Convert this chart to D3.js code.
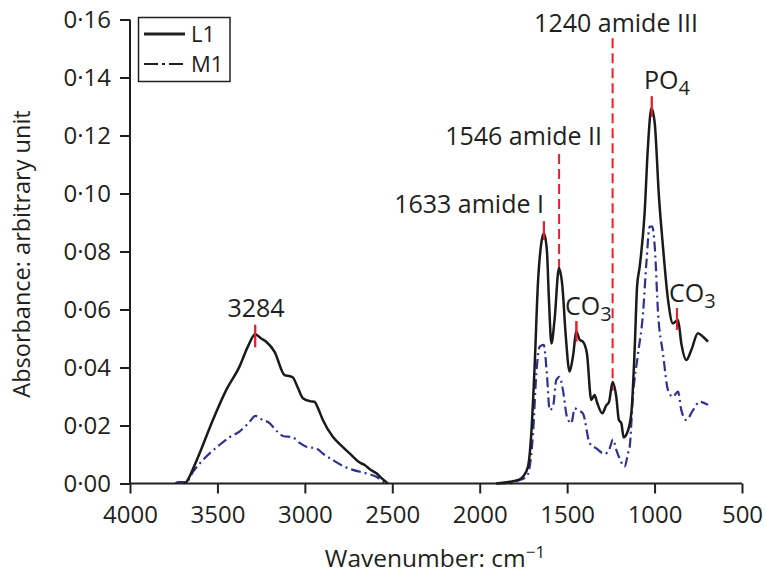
<!DOCTYPE html>
<html>
<head>
<meta charset="utf-8">
<script src="https://cdn.jsdelivr.net/npm/d3@7"></script>
<style>
  body { margin: 0; background: #fff; }
  text { font-family: "Open Sans", sans-serif; fill: #231f20; }
</style>
</head>
<body>
<svg width="766" height="575"></svg>
<script>
// spectrum L1 (solid black), null breaks the line where it sits on the axis
var l1Wave = [3690, 3678, 3640, 3602, 3526, 3450, 3374, 3326, 3284, 3250, 3221, 3173, 3116, 3085, 3069, 3040, 3011, 2970, 2945, 2925, 2897, 2840, 2790, 2744, 2680, 2658, 2630, 2591, 2555, 2525,
    2200,
    1905, 1829, 1780, 1753, 1724, 1705, 1686, 1667, 1648, 1633, 1616, 1604, 1590, 1572, 1547, 1527, 1509, 1486, 1467, 1447, 1428, 1410, 1387, 1362, 1343, 1330, 1299, 1276, 1261, 1240, 1219, 1204, 1190, 1177, 1158, 1133, 1114, 1100, 1085, 1057, 1038, 1018, 999, 975, 952, 923, 895, 866, 847, 818, 790, 752, 723, 694];
var l1Abs = [0.000, 0.0005, 0.005, 0.0104, 0.0219, 0.0322, 0.0403, 0.0472, 0.0515, 0.0500, 0.0489, 0.0454, 0.0374, 0.0370, 0.0366, 0.0330, 0.0294, 0.0284, 0.0282, 0.0260, 0.0219, 0.0161, 0.0130, 0.0104, 0.0070, 0.0064, 0.0050, 0.0035, 0.0015, 0.000,
    null,
    0.000, 0.0006, 0.0012, 0.0023, 0.0058, 0.0173, 0.0403, 0.0690, 0.0828, 0.0863, 0.0805, 0.0633, 0.0483, 0.0564, 0.0742, 0.0679, 0.0518, 0.0386, 0.0437, 0.0523, 0.0495, 0.0489, 0.0449, 0.0288, 0.0305, 0.0282, 0.0242, 0.0270, 0.0280, 0.0350, 0.0299, 0.0219, 0.0208, 0.0159, 0.0173, 0.0242, 0.0460, 0.0680, 0.0748, 0.0932, 0.1161, 0.1294, 0.1242, 0.0989, 0.0817, 0.0633, 0.0552, 0.0564, 0.0483, 0.0426, 0.0460, 0.0518, 0.0506, 0.0489];

// spectrum M1 (blue dash-dot)
var m1Wave = [3740, 3727, 3678, 3640, 3583, 3488, 3430, 3374, 3320, 3282, 3250, 3202, 3160, 3126, 3069, 3030, 2992, 2935, 2890, 2840, 2780, 2725, 2649, 2591, 2555, 2525,
    2200,
    1905, 1829, 1780, 1733, 1714, 1695, 1676, 1657, 1634, 1616, 1600, 1581, 1562, 1543, 1524, 1501, 1476, 1457, 1438, 1410, 1371, 1333, 1285, 1257, 1238, 1219, 1181, 1171, 1152, 1142, 1124, 1095, 1066, 1047, 1028, 1013, 999, 980, 952, 923, 895, 866, 847, 818, 780, 742, 694];
var m1Abs = [0.000, 0.0005, 0.0005, 0.0040, 0.0081, 0.0133, 0.0160, 0.0179, 0.0210, 0.0233, 0.0222, 0.0208, 0.0180, 0.0164, 0.0159, 0.0140, 0.0127, 0.0121, 0.0100, 0.0081, 0.0060, 0.0047, 0.0035, 0.0023, 0.0008, 0.000,
    null,
    0.000, 0.000, 0.0010, 0.0023, 0.0058, 0.0173, 0.0380, 0.0472, 0.0478, 0.0380, 0.0253, 0.0265, 0.0357, 0.0368, 0.0322, 0.0230, 0.0208, 0.0259, 0.0253, 0.0242, 0.0139, 0.0121, 0.0102, 0.0121, 0.0152, 0.0116, 0.0064, 0.0058, 0.0104, 0.0127, 0.0300, 0.0445, 0.0587, 0.0759, 0.0886, 0.0886, 0.0817, 0.0587, 0.0449, 0.0322, 0.0299, 0.0317, 0.0253, 0.0219, 0.0253, 0.0282, 0.0271];

var xTicks = [4000, 3500, 3000, 2500, 2000, 1500, 1000, 500];
var yTicks = [0, 0.02, 0.04, 0.06, 0.08, 0.10, 0.12, 0.14, 0.16];

// peak marks: wavenumber, mark top / bottom in data units, dashed or short
var peakWave = [3284, 1633, 1546, 1240, 1016, 1447, 872];
var peakTop = [0.0547, 0.0904, 0.1136, 0.1535, 0.1335, 0.0560, 0.0605];
var peakBottom = [0.0470, 0.0840, 0.0720, 0.0320, 0.1265, 0.0490, 0.0530];
var peakDashed = [false, false, true, true, false, false, false];

var svg = d3.select("svg"),
    margin = {top: 19.5, right: 24, bottom: 91.5, left: 130},
    width = 766 - margin.left - margin.right,
    height = 575 - margin.top - margin.bottom;

var ink = "#231f20",
    red = "#e8202a",
    blue = "#2e3192";

var x = d3.scaleLinear().domain([4000, 500]).range([0, width]);
var y = d3.scaleLinear().domain([0, 0.16]).range([height, 0]);

var g = svg.append("g")
    .attr("transform", "translate(" + margin.left + "," + margin.top + ")");

function series(wave, abs) {
    return wave.map(function(w, i) { return {w: w, v: abs[i]}; });
}

var line = d3.line()
    .defined(function(d) { return d.v !== null; })
    .x(function(d) { return x(d.w); })
    .y(function(d) { return y(d.v); })
    .curve(d3.curveMonotoneX);

// peak marker lines
peakWave.forEach(function(w, i) {
    g.append("line")
        .attr("x1", x(w)).attr("x2", x(w))
        .attr("y1", y(peakTop[i])).attr("y2", y(peakBottom[i]))
        .attr("stroke", red)
        .attr("stroke-width", 2)
        .attr("stroke-dasharray", peakDashed[i] ? "10,5" : null);
});

g.append("path")
    .datum(series(m1Wave, m1Abs))
    .attr("fill", "none")
    .attr("stroke", blue)
    .attr("stroke-width", 2.2)
    .attr("stroke-dasharray", "10,4,2,4")
    .attr("d", line);

g.append("path")
    .datum(series(l1Wave, l1Abs))
    .attr("fill", "none")
    .attr("stroke", "#1a1a1a")
    .attr("stroke-width", 2.5)
    .attr("stroke-linejoin", "round")
    .attr("d", line);

// short red ticks drawn again on top of the curve so they read over it
peakWave.forEach(function(w, i) {
    if (peakDashed[i]) return;
    g.append("line")
        .attr("x1", x(w)).attr("x2", x(w))
        .attr("y1", y(peakTop[i])).attr("y2", y(peakBottom[i]))
        .attr("stroke", red)
        .attr("stroke-width", 2);
});

// axes
var xAxis = g.append("g")
    .attr("transform", "translate(0," + height + ")")
    .call(d3.axisBottom(x).tickValues(xTicks).tickSize(10).tickPadding(12).tickFormat(d3.format("d")));

var yAxis = g.append("g")
    .call(d3.axisLeft(y).tickValues(yTicks).tickSize(10).tickPadding(9)
        .tickFormat(function(d) { return d3.format(".2f")(d).replace(".", "\u00b7"); }));

[xAxis, yAxis].forEach(function(a) {
    a.select(".domain").attr("stroke", ink).attr("stroke-width", 2)
        .attr("d", a === xAxis ? "M0,0H" + width : "M0," + height + "V0");
    a.selectAll(".tick line").attr("stroke", ink).attr("stroke-width", 2);
    a.selectAll(".tick text")
        .attr("fill", ink)
        .style("font-family", "'Open Sans', sans-serif")
        .style("font-size", "24px");
});

// axis titles
svg.append("text")
    .attr("transform", "translate(30,254) rotate(-90)")
    .attr("text-anchor", "middle")
    .style("font-size", "23.5px")
    .text("Absorbance: arbitrary unit");

var xTitle = svg.append("text")
    .attr("x", 435)
    .attr("y", 567)
    .attr("text-anchor", "middle")
    .style("font-size", "24.5px")
    .text("Wavenumber: cm");
xTitle.append("tspan")
    .attr("dy", "-0.55em")
    .style("font-size", "17px")
    .text("\u22121");

// annotations
function label(txt, sub, px, py, anchor) {
    var t = svg.append("text")
        .attr("x", px)
        .attr("y", py)
        .attr("text-anchor", anchor)
        .style("font-size", "25px")
        .text(txt);
    if (sub) {
        t.append("tspan")
            .attr("dy", "0.3em")
            .style("font-size", "20px")
            .text(sub);
    }
}

label("3284", null, 256, 317, "middle");
label("1633 amide I", null, 544, 213, "end");
label("1546 amide II", null, 602, 145, "end");
label("1240 amide III", null, 616, 32, "middle");
label("PO", "4", 644, 89, "start");
label("CO", "3", 565, 315, "start");
label("CO", "3", 669, 302, "start");

// legend
var legend = svg.append("g");
legend.append("rect")
    .attr("x", 138.5).attr("y", 17.5)
    .attr("width", 91.5).attr("height", 64)
    .attr("fill", "#fff")
    .attr("stroke", ink)
    .attr("stroke-width", 1.5);
legend.append("line")
    .attr("x1", 144).attr("x2", 185).attr("y1", 34).attr("y2", 34)
    .attr("stroke", ink).attr("stroke-width", 3);
legend.append("line")
    .attr("x1", 144).attr("x2", 185).attr("y1", 64).attr("y2", 64)
    .attr("stroke", ink).attr("stroke-width", 2)
    .attr("stroke-dasharray", "14,4,3,4");
legend.append("text").attr("x", 191).attr("y", 42).style("font-size", "22px").text("L1");
legend.append("text").attr("x", 191).attr("y", 72).style("font-size", "22px").text("M1");
</script>
</body>
</html>
